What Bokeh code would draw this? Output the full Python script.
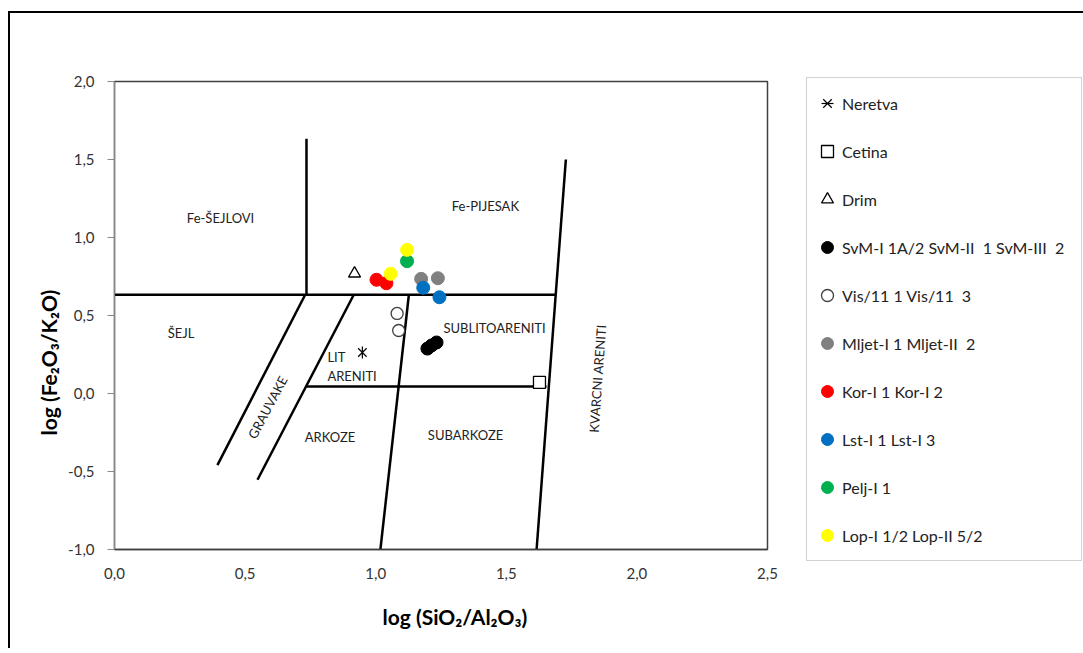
import math
from bokeh.plotting import figure
from bokeh.models import Legend, LegendItem, FixedTicker, Range1d, Title, InlineStyleSheet
from bokeh.embed import file_html
from bokeh.resources import INLINE
from bokeh.core.properties import value

# ---------------- data ----------------
# classification boundaries (x = log(SiO2/Al2O3), y = log(Fe2O3/K2O))
boundary_x = [[0.0, 1.688], [0.735, 0.735], [0.737, 1.654], [0.394, 0.730],
              [0.5475, 0.916], [1.018, 1.127], [1.616, 1.728]]
boundary_y = [[0.633, 0.633], [0.633, 1.633], [0.045, 0.045], [-0.459, 0.633],
              [-0.553, 0.633], [-1.0, 0.633], [-1.0, 1.5]]

# field names
field_names = ["Fe-ŠEJLOVI", "Fe-PIJESAK", "ŠEJL", "SUBLITOARENITI", "ARKOZE", "SUBARKOZE", "GRAUVAKE", "KVARCNI ARENITI"]
field_x = [0.406, 1.420, 0.255, 1.455, 0.825, 1.344, 0.586, 1.849]
field_y = [1.128, 1.205, 0.385, 0.423, -0.276, -0.269, -0.088, 0.096]
field_angle_deg = [0, 0, 0, 0, 0, 0, 62, 86]
lit_names = ["LIT", "ARENITI"]
lit_x = [0.815, 0.815]
lit_y = [0.237, 0.115]

# samples
neretva_x = [0.949]; neretva_y = [0.263]
cetina_x = [1.627]; cetina_y = [0.071]
drim_x = [0.919]; drim_y = [0.769]
svm_x = [1.198, 1.214, 1.233]; svm_y = [0.288, 0.308, 0.327]
vis_x = [1.082, 1.088]; vis_y = [0.513, 0.404]
mljet_x = [1.174, 1.238]; mljet_y = [0.735, 0.739]
kor_x = [1.003, 1.041]; kor_y = [0.729, 0.707]
lst_x = [1.182, 1.244]; lst_y = [0.678, 0.617]
pelj_x = [1.120]; pelj_y = [0.848]
lop_x = [1.120, 1.057]; lop_y = [0.921, 0.767]

x_ticks = [0.0, 0.5, 1.0, 1.5, 2.0, 2.5]
x_tick_labels = ["0,0", "0,5", "1,0", "1,5", "2,0", "2,5"]
y_ticks = [-1.0, -0.5, 0.0, 0.5, 1.0, 1.5, 2.0]
y_tick_labels = ["-1,0", "-0,5", "0,0", "0,5", "1,0", "1,5", "2,0"]

legend_labels = ["Neretva", "Cetina", "Drim", "SvM-I 1A/2 SvM-II  1 SvM-III  2", "Vis/11 1 Vis/11  3",
                 "Mljet-I 1 Mljet-II  2", "Kor-I 1 Kor-I 2", "Lst-I 1 Lst-I 3", "Pelj-I 1",
                 "Lop-I 1/2 Lop-II 5/2"]

FONT = "Lato"

# marker styles per series (legend order)
styles = [
    None,  # Neretva: x + vertical dash
    dict(marker="square", size=12, fill_color="white", line_color="black", line_width=1.3),
    dict(marker="triangle", size=12, fill_color="white", line_color="black", line_width=1.3),
    dict(marker="circle", size=13, fill_color="black", line_color="black"),
    dict(marker="circle", size=12, fill_color="white", line_color="#404040", line_width=1.3),
    dict(marker="circle", size=13, fill_color="#808080", line_color="#808080"),
    dict(marker="circle", size=13, fill_color="#FF0000", line_color="#FF0000"),
    dict(marker="circle", size=13, fill_color="#0070C0", line_color="#0070C0"),
    dict(marker="circle", size=13, fill_color="#00B050", line_color="#00B050"),
    dict(marker="circle", size=13, fill_color="#FFFF00", line_color="#FFFF00"),
]
ner_a = dict(marker="x", size=12, line_color="black", line_width=1.2)
ner_b = dict(marker="dash", angle=math.pi / 2, size=12, line_color="black", line_width=1.2)
series_xy = [(neretva_x, neretva_y), (cetina_x, cetina_y), (drim_x, drim_y), (svm_x, svm_y),
             (vis_x, vis_y), (mljet_x, mljet_y), (kor_x, kor_y), (lst_x, lst_y),
             (pelj_x, pelj_y), (lop_x, lop_y)]

# ---------------- main figure ----------------
p = figure(frame_width=653, frame_height=468, x_range=Range1d(0, 2.5), y_range=Range1d(-1, 2),
           output_backend="svg", toolbar_location=None,
           min_border_left=114, min_border_right=38, min_border_top=81, min_border_bottom=96)
p.xgrid.visible = False
p.ygrid.visible = False
p.background_fill_color = "white"
p.border_fill_color = "white"
p.outline_line_color = "#404040"
p.outline_line_width = 1.5

p.xaxis.ticker = FixedTicker(ticks=x_ticks)
p.xaxis.major_label_overrides = dict(zip(x_ticks, x_tick_labels))
p.yaxis.ticker = FixedTicker(ticks=y_ticks)
p.yaxis.major_label_overrides = dict(zip(y_ticks, y_tick_labels))
for ax in (p.xaxis, p.yaxis):
    ax.minor_tick_line_color = None
    ax.major_label_text_font = FONT
    ax.major_label_text_font_size = "15px"
    ax.major_label_text_color = "#333333"
p.xaxis.axis_line_color = "#404040"
p.xaxis.axis_line_width = 1.5
p.xaxis.major_tick_line_color = None
p.xaxis.major_label_standoff = 12
p.yaxis.axis_line_color = "#888888"
p.yaxis.axis_line_width = 1.2
p.yaxis.major_tick_line_color = "#888888"
p.yaxis.major_tick_in = 0
p.yaxis.major_tick_out = 7
p.yaxis.major_label_standoff = 13

p.multi_line(xs=boundary_x, ys=boundary_y, line_color="black", line_width=2.5)

p.text(x=field_x, y=field_y, text=field_names, angle=[math.radians(a) for a in field_angle_deg],
       text_font=value(FONT), text_font_size="13px", text_color="#222222",
       text_align="center", text_baseline="middle")
p.text(x=lit_x, y=lit_y, text=lit_names, text_font=value(FONT), text_font_size="13px",
       text_color="#222222", text_align="left", text_baseline="middle")

p.scatter(neretva_x, neretva_y, **ner_a)
p.scatter(neretva_x, neretva_y, **ner_b)
for (sx, sy), st in zip(series_xy[1:], styles[1:]):
    p.scatter(sx, sy, **st)

p.add_layout(Title(text="log (SiO₂/Al₂O₃)", align="left", offset=268, text_font=FONT,
                   text_font_size="21px", text_font_style="bold", text_color="black",
                   standoff=40), "below")
p.add_layout(Title(text="log (Fe₂O₃/K₂O)", align="left", offset=114, text_font=FONT,
                   text_font_size="21px", text_font_style="bold", text_color="black",
                   vertical_align="bottom", standoff=10), "left")

# chart-area border (top and left edges)
p.stylesheets = [InlineStyleSheet(css="""
:host { position: relative; }
:host::after { content: ""; position: absolute; left: 8px; top: 11px;
  width: calc(100vw - 8px); height: calc(100% - 11px);
  border-left: 2px solid black; border-top: 2px solid black;
  box-sizing: border-box; pointer-events: none; z-index: 10; }
""")]

# ---------------- legend panel ----------------
# proxy renderers (same series, outside this panel's view) so the legend can show each marker
q = figure(width=277, height=640, x_range=Range1d(10, 11), y_range=Range1d(10, 11),
           output_backend="svg", toolbar_location=None,
           min_border_left=1, min_border_top=77, min_border_right=0, min_border_bottom=0)
q.xaxis.visible = False
q.yaxis.visible = False
q.xgrid.visible = False
q.ygrid.visible = False
q.outline_line_color = None
q.background_fill_color = "white"
q.border_fill_color = "white"
q.styles = {"position": "absolute", "left": "805px", "top": "0px"}

leg_renderers = [[q.scatter(neretva_x, neretva_y, **ner_a), q.scatter(neretva_x, neretva_y, **ner_b)]]
for (sx, sy), st in zip(series_xy[1:], styles[1:]):
    leg_renderers.append([q.scatter(sx, sy, **st)])
items = [LegendItem(label=l, renderers=r) for l, r in zip(legend_labels, leg_renderers)]
legend = Legend(items=items, location="top_left", margin=0, padding=5, spacing=8,
                label_height=40, glyph_height=40, glyph_width=30, label_standoff=0, label_width=234,
                label_text_font=FONT, label_text_font_size="16px", label_text_color="#222222",
                border_line_color="#A6A6A6", border_line_width=1.5, background_fill_color="white",
                background_fill_alpha=1.0)
q.add_layout(legend, "center")

open("out.html", "w").write(file_html([p, q], INLINE))
